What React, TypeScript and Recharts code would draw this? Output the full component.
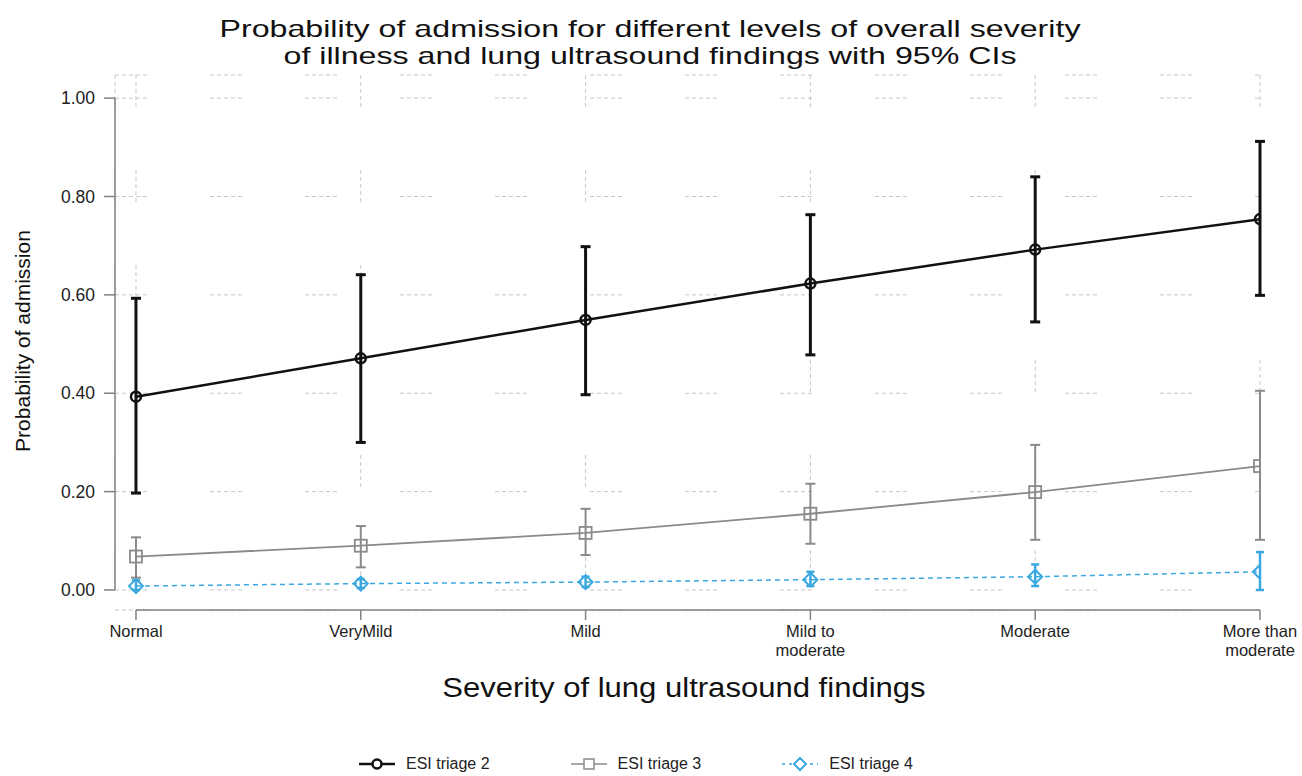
import { LineChart, Line, XAxis, YAxis, CartesianGrid, ErrorBar, ReferenceLine } from 'recharts'

const CATEGORIES = ['Normal', 'VeryMild', 'Mild', 'Mild to\nmoderate', 'Moderate', 'More than\nmoderate']
const Y_TICKS = [0, 0.2, 0.4, 0.6, 0.8, 1]

// ESI triage 2
const TRIAGE2 = [0.393, 0.471, 0.549, 0.623, 0.692, 0.754]
const TRIAGE2_LO = [0.197, 0.3, 0.397, 0.478, 0.545, 0.599]
const TRIAGE2_HI = [0.593, 0.641, 0.698, 0.763, 0.84, 0.912]

// ESI triage 3
const TRIAGE3 = [0.068, 0.09, 0.116, 0.155, 0.199, 0.252]
const TRIAGE3_LO = [0.025, 0.046, 0.071, 0.094, 0.102, 0.102]
const TRIAGE3_HI = [0.107, 0.13, 0.165, 0.216, 0.295, 0.405]

// ESI triage 4
const TRIAGE4 = [0.008, 0.013, 0.016, 0.021, 0.027, 0.037]
const TRIAGE4_LO = [0.0, 0.004, 0.006, 0.008, 0.008, 0.0]
const TRIAGE4_HI = [0.02, 0.022, 0.027, 0.037, 0.052, 0.077]

const FONT = '"Liberation Sans", Arial, Helvetica, sans-serif'
const BLACK = '#111'
const GRAY = '#8a8a8a'
const BLUE = '#3aa8e0'
const AXIS = '#808080'

// plot region reaches a little past the axes, like stata does
const X_MIN = -0.0933
const Y_MIN = -0.0407
const Y_MAX = 1.047

const data = CATEGORIES.map((c, i) => ({
  idx: i,
  t2: TRIAGE2[i],
  t2err: [TRIAGE2[i] - TRIAGE2_LO[i], TRIAGE2_HI[i] - TRIAGE2[i]],
  t3: TRIAGE3[i],
  t3err: [TRIAGE3[i] - TRIAGE3_LO[i], TRIAGE3_HI[i] - TRIAGE3[i]],
  t4: TRIAGE4[i],
  t4err: [TRIAGE4[i] - TRIAGE4_LO[i], TRIAGE4_HI[i] - TRIAGE4[i]]
}))

function CircleDot({ cx, cy }: any) {
  if (cx == null || cy == null) return null
  return <circle cx={cx} cy={cy} r={5} fill="none" stroke={BLACK} strokeWidth={2.5} />
}

function SquareDot({ cx, cy }: any) {
  if (cx == null || cy == null) return null
  return <rect x={cx - 6} y={cy - 6} width={12} height={12} fill="none" stroke={GRAY} strokeWidth={1.8} />
}

function DiamondDot({ cx, cy }: any) {
  if (cx == null || cy == null) return null
  return (
    <path
      d={`M${cx},${cy - 7} L${cx + 7},${cy} L${cx},${cy + 7} L${cx - 7},${cy} Z`}
      fill="none"
      stroke={BLUE}
      strokeWidth={2}
    />
  )
}

function XTick({ x, y, payload }: any) {
  const lines = CATEGORIES[payload.value].split('\n')
  return (
    <g transform={`translate(${x},${y})`}>
      <text textAnchor="middle" fill="#222" fontSize={16.5} fontFamily={FONT}>
        {lines.map((l, i) => (
          <tspan key={i} x={0} dy={i === 0 ? 15 : 18.7}>
            {l}
          </tspan>
        ))}
      </text>
    </g>
  )
}

function LegendItem({ kind, label }: { kind: 'circle' | 'square' | 'diamond'; label: string }) {
  return (
    <div style={{ display: 'flex', alignItems: 'center', gap: 10 }}>
      <svg width={38} height={16}>
        {kind === 'circle' && (
          <>
            <line x1={1} y1={8} x2={37} y2={8} stroke={BLACK} strokeWidth={2.5} />
            <circle cx={19} cy={8} r={4.5} fill="white" stroke={BLACK} strokeWidth={2.5} />
          </>
        )}
        {kind === 'square' && (
          <>
            <line x1={1} y1={8} x2={37} y2={8} stroke={GRAY} strokeWidth={1.5} />
            <rect x={14} y={3} width={10} height={10} fill="white" stroke={GRAY} strokeWidth={1.5} />
          </>
        )}
        {kind === 'diamond' && (
          <>
            <line x1={1} y1={8} x2={37} y2={8} stroke={BLUE} strokeWidth={1.5} strokeDasharray="3 4" />
            <path d="M19,2 L25,8 L19,14 L13,8 Z" fill="white" stroke={BLUE} strokeWidth={2} />
          </>
        )}
      </svg>
      <span>{label}</span>
    </div>
  )
}

const titleLine = (top: number): React.CSSProperties => ({
  position: 'absolute',
  left: 650,
  top,
  transform: 'translateX(-50%) scaleX(1.34)',
  whiteSpace: 'nowrap',
  fontSize: 24,
  lineHeight: '26px',
  color: '#111'
})

export default function App() {
  return (
    <div style={{ position: 'absolute', left: 0, top: 0, width: 1302, height: 776, background: '#fff', fontFamily: FONT }}>
      <div style={titleLine(16)}>Probability of admission for different levels of overall severity</div>
      <div style={titleLine(43)}>of illness and lung ultrasound findings with 95% CIs</div>

      <LineChart width={1302} height={776} data={data} margin={{ top: 75, right: 42, left: 0, bottom: 126 }}>
        <CartesianGrid
          stroke="#c8c8c8"
          strokeWidth={1}
          strokeDasharray="4 3 4 3 4 3 4 3 4 63"
          horizontal={{ strokeDashoffset: 30 } as any}
        />
        <XAxis
          type="number"
          dataKey="idx"
          domain={[X_MIN, 5]}
          ticks={[0, 1, 2, 3, 4, 5]}
          allowDataOverflow
          height={40}
          axisLine={false}
          tickLine={{ stroke: AXIS, strokeWidth: 1.5 }}
          tickSize={10}
          tick={<XTick />}
        />
        <YAxis
          type="number"
          domain={[Y_MIN, Y_MAX]}
          ticks={Y_TICKS}
          allowDataOverflow
          width={115}
          axisLine={false}
          tickLine={{ stroke: AXIS, strokeWidth: 1.5 }}
          tickSize={11}
          tickMargin={9}
          tickFormatter={(v: number) => v.toFixed(2)}
          tick={{ fill: '#222', fontSize: 17.5, fontFamily: FONT }}
        />
        <ReferenceLine
          segment={[{ x: X_MIN, y: 0 }, { x: X_MIN, y: 1 }]}
          stroke={AXIS}
          strokeWidth={1.5}
          ifOverflow="visible"
        />
        <ReferenceLine
          segment={[{ x: 0, y: Y_MIN }, { x: 5, y: Y_MIN }]}
          stroke={AXIS}
          strokeWidth={1.5}
          ifOverflow="visible"
        />

        <Line
          dataKey="t4"
          type="linear"
          stroke={BLUE}
          strokeWidth={1.5}
          strokeDasharray="5 4"
          dot={<DiamondDot />}
          activeDot={false}
          isAnimationActive={false}
        >
          <ErrorBar dataKey="t4err" direction="y" width={4} stroke={BLUE} strokeWidth={2.5} />
        </Line>
        <Line
          dataKey="t3"
          type="linear"
          stroke={GRAY}
          strokeWidth={1.8}
          dot={<SquareDot />}
          activeDot={false}
          isAnimationActive={false}
        >
          <ErrorBar dataKey="t3err" direction="y" width={5} stroke={GRAY} strokeWidth={2} />
        </Line>
        <Line
          dataKey="t2"
          type="linear"
          stroke={BLACK}
          strokeWidth={2.5}
          dot={<CircleDot />}
          activeDot={false}
          isAnimationActive={false}
        >
          <ErrorBar dataKey="t2err" direction="y" width={5} stroke={BLACK} strokeWidth={3} />
        </Line>
      </LineChart>

      <div
        style={{
          position: 'absolute',
          left: 684,
          top: 674,
          transform: 'translateX(-50%) scaleX(1.15)',
          whiteSpace: 'nowrap',
          fontSize: 27,
          lineHeight: '28px',
          color: '#111'
        }}
      >
        Severity of lung ultrasound findings
      </div>

      <div
        style={{
          position: 'absolute',
          left: 23,
          top: 341,
          transform: 'translate(-50%, -50%) rotate(-90deg)',
          whiteSpace: 'nowrap',
          fontSize: 21,
          color: '#111'
        }}
      >
        Probability of admission
      </div>

      <div
        style={{
          position: 'absolute',
          left: 358,
          top: 755,
          display: 'flex',
          gap: 80,
          fontSize: 16,
          color: '#222'
        }}
      >
        <LegendItem kind="circle" label="ESI triage 2" />
        <LegendItem kind="square" label="ESI triage 3" />
        <LegendItem kind="diamond" label="ESI triage 4" />
      </div>
    </div>
  )
}
